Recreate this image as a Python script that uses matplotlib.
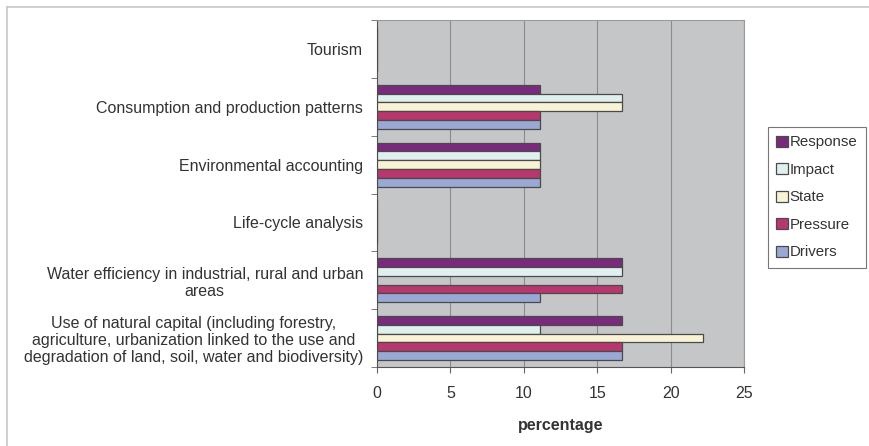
import matplotlib.pyplot as plt
from matplotlib.lines import Line2D
import numpy as np

plt.rcParams['font.family'] = ['Liberation Sans', 'DejaVu Sans']

# categories, top to bottom as shown
categories = [
    'Tourism',
    'Consumption and production patterns',
    'Environmental accounting',
    'Life-cycle analysis',
    'Water efficiency in industrial, rural and urban\nareas',
    'Use of natural capital (including forestry,\nagriculture, urbanization linked to the use and\ndegradation of land, soil, water and biodiversity)',
]
series = ['Response', 'Impact', 'State', 'Pressure', 'Drivers']
response = [0, 11.1, 11.1, 0, 16.7, 16.7]
impact = [0, 16.7, 11.1, 0, 16.7, 11.1]
state = [0, 16.7, 11.1, 0, 0, 22.2]
pressure = [0, 11.1, 11.1, 0, 16.7, 16.7]
drivers = [0, 11.1, 11.1, 0, 11.1, 16.7]
values = [response, impact, state, pressure, drivers]
colors = ['#7a2a7c', '#dff0ee', '#f8f3d4', '#b8376e', '#9aa8d4']

fig = plt.figure(figsize=(8.69, 4.46), dpi=100)
ax = fig.add_axes([377/869, 1 - 367/446, 367/869, 347/446])
ax.set_facecolor('#c4c6c8')

n = len(categories)
ypos = np.arange(n)[::-1]  # first category at top
bh = 0.152
for i, (name, vals, c) in enumerate(zip(series, values, colors)):
    offs = (2 - i) * bh
    ax.barh(ypos + offs, vals, height=bh, color=c, edgecolor='#4a4a4a',
            linewidth=0.9, label=name, zorder=3)

fs = 11.5
ax.set_xlim(0, 25)
ax.set_ylim(-0.5, n - 0.5)
ax.set_xticks([0, 5, 10, 15, 20, 25])
ax.xaxis.grid(True, color='#8c8c8c', linewidth=0.8, zorder=1)
ax.set_yticks(ypos)
ax.set_yticklabels(categories, fontsize=fs, color='#333333', ha='right',
                   multialignment='center', linespacing=1.15)
ax.tick_params(axis='y', length=0, pad=10)
ax.set_yticks(np.arange(n + 1) - 0.5, minor=True)
ax.tick_params(axis='y', which='minor', length=4, color='#666666')
ax.tick_params(axis='x', length=4, color='#666666', labelsize=fs, labelcolor='#333333', pad=10)
ax.set_xlabel('percentage', fontsize=fs, fontweight='bold', color='#333333', labelpad=12)

for s in ['top', 'right']:
    ax.spines[s].set_color('#9a9a9a')
for s in ['left', 'bottom']:
    ax.spines[s].set_color('#555555')

leg = ax.legend(loc='upper left', bbox_to_anchor=(768/869, 1 - 127/446),
                bbox_transform=fig.transFigure, frameon=True, fancybox=False,
                fontsize=10.8, handlelength=0.75, handleheight=0.75,
                handletextpad=0.15, labelspacing=0.9, borderpad=0.55,
                borderaxespad=0)
leg.get_frame().set_edgecolor('#555555')
leg.get_frame().set_linewidth(0.8)
for t in leg.get_texts():
    t.set_color('#333333')

# outer chart border (top and left visible)
fig.add_artist(Line2D([7/869, 1], [1 - 7/446, 1 - 7/446], color='#c8c8c8', linewidth=1.2))
fig.add_artist(Line2D([7/869, 7/869], [0, 1 - 7/446], color='#c8c8c8', linewidth=1.2))

fig.savefig('out.png', dpi=100, facecolor='white')
